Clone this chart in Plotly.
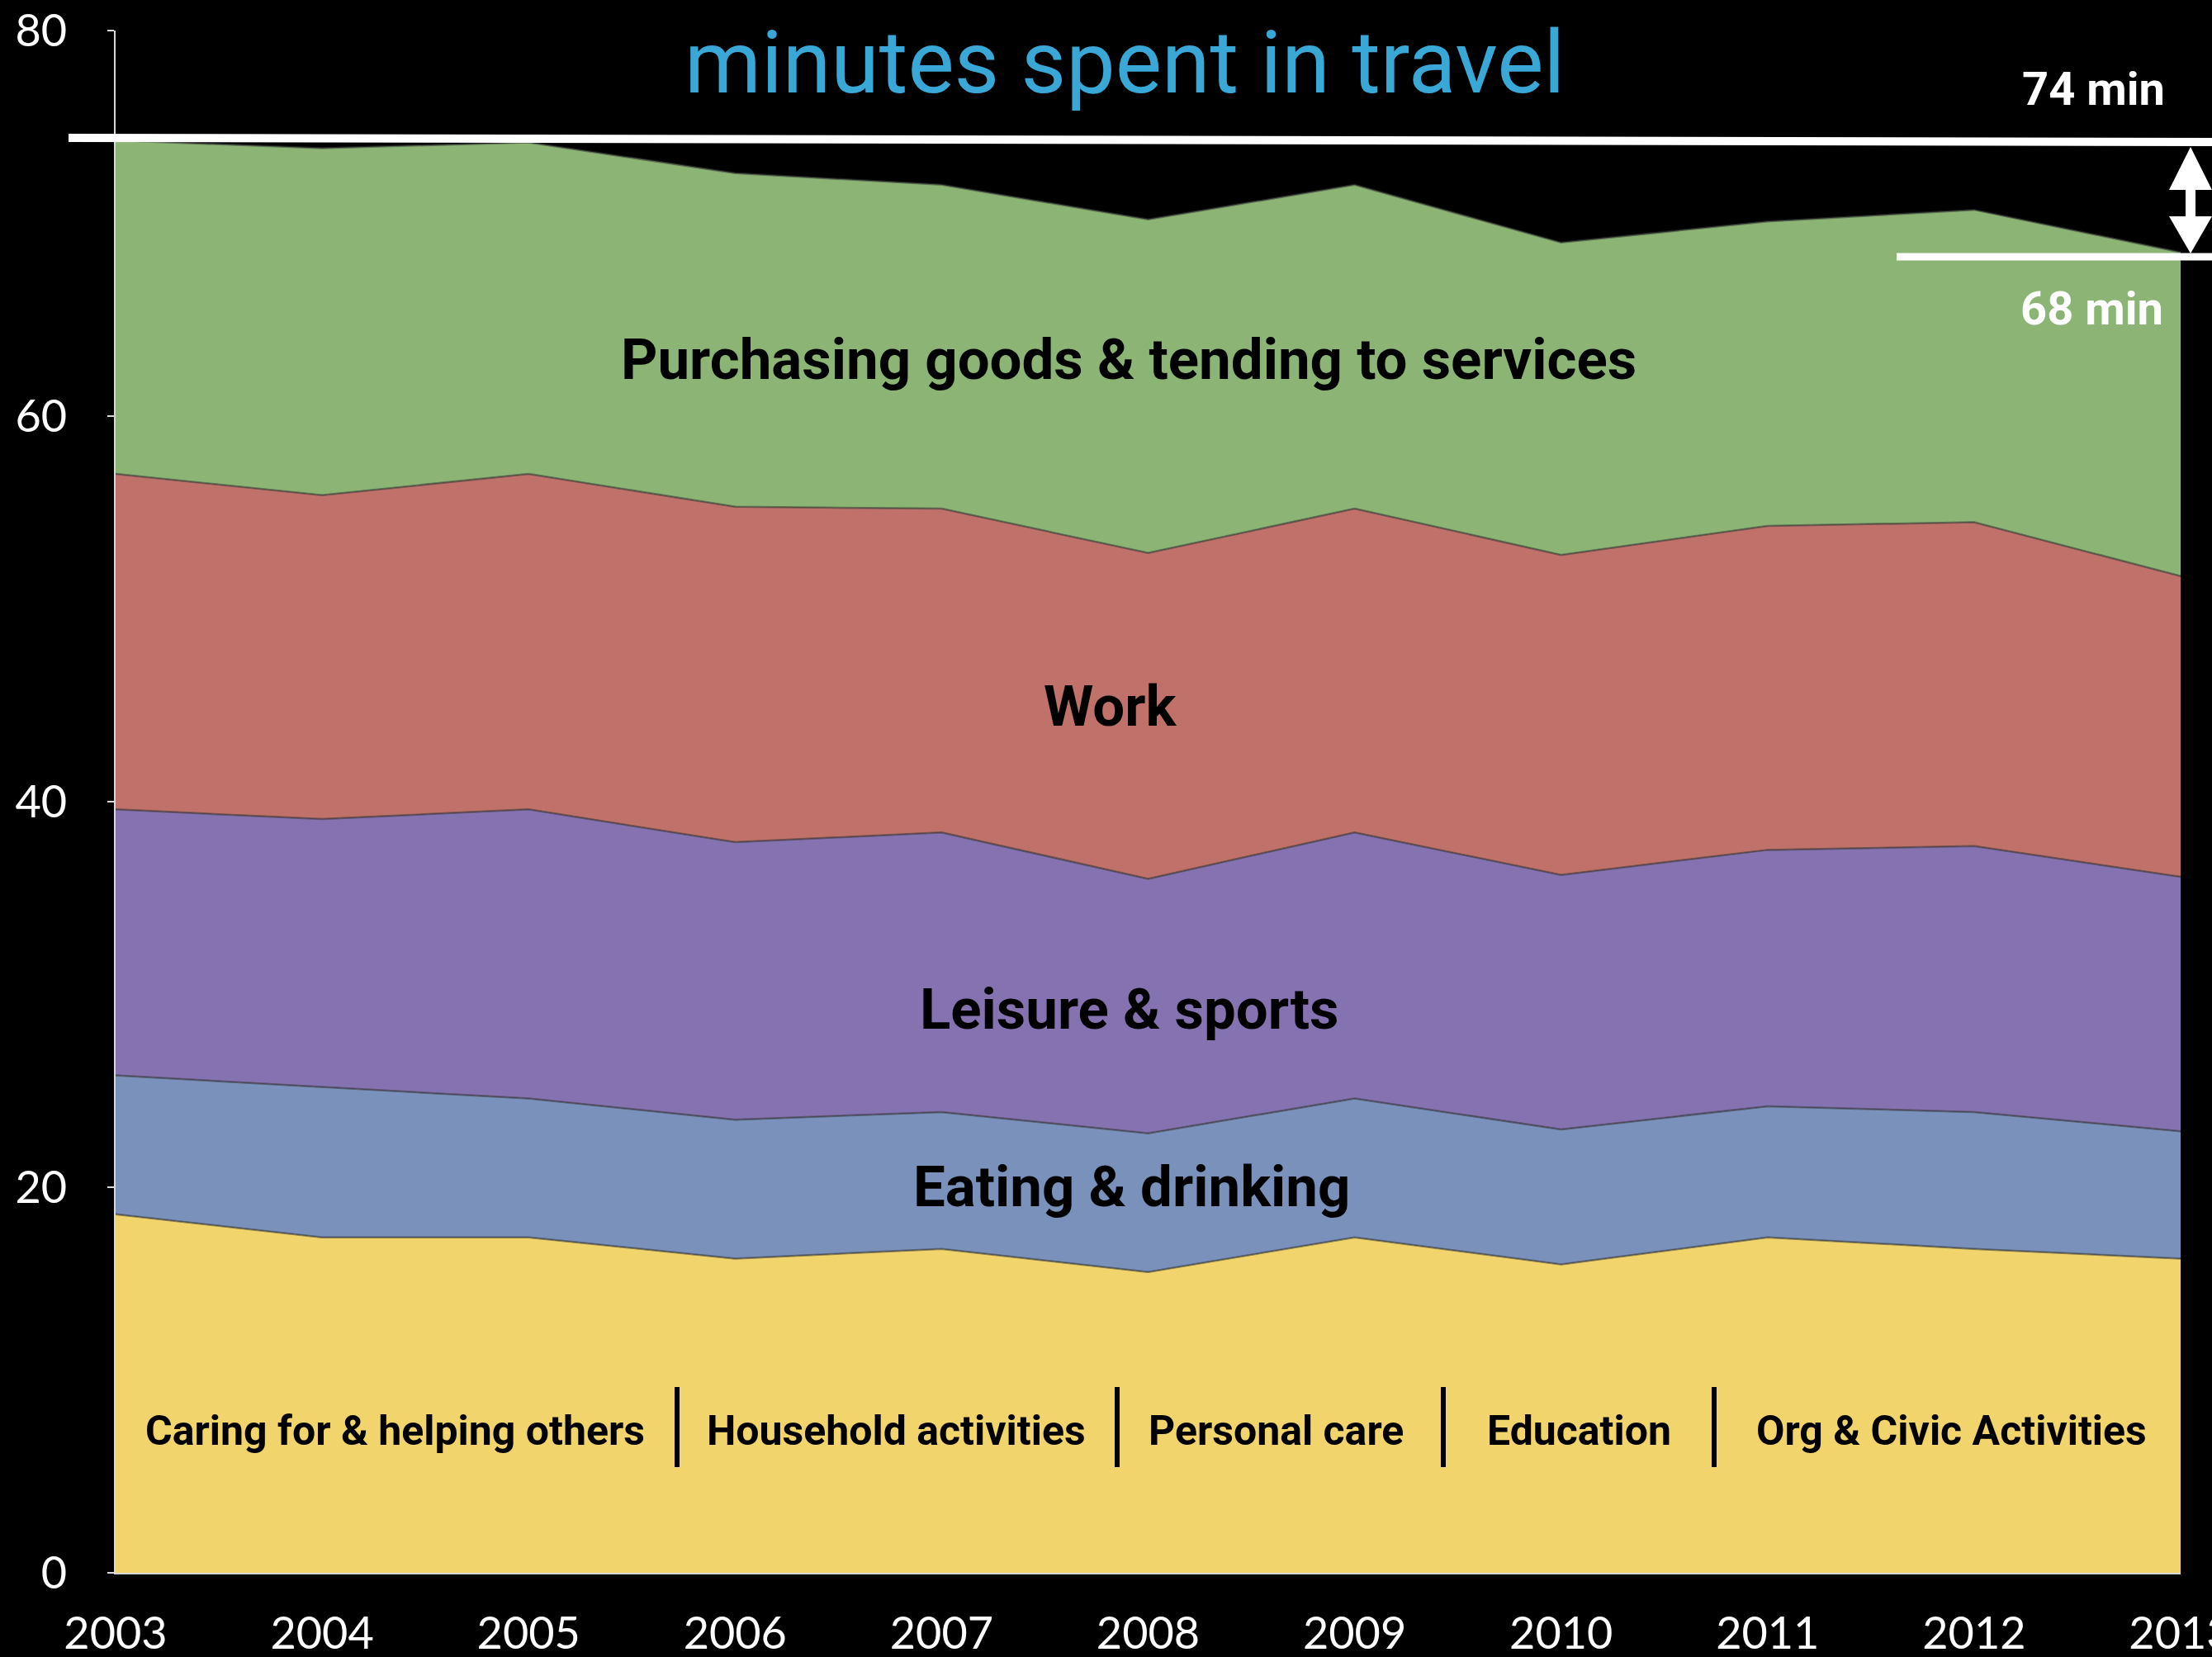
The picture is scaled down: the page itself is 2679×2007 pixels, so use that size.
import plotly.graph_objects as go

# ---------------- data (minutes per day spent in travel, by purpose) ----------------
years = [2003, 2004, 2005, 2006, 2007, 2008, 2009, 2010, 2011, 2012, 2013]

other_activities = [18.6, 17.4, 17.4, 16.3, 16.8, 15.6, 17.4, 16.0, 17.4, 16.8, 16.3]
eating_drinking = [7.2, 7.8, 7.2, 7.2, 7.1, 7.2, 7.2, 7.0, 6.8, 7.1, 6.6]
leisure_sports = [13.8, 13.9, 15.0, 14.4, 14.5, 13.2, 13.8, 13.2, 13.3, 13.8, 13.2]
work = [17.4, 16.8, 17.4, 17.4, 16.8, 16.9, 16.8, 16.6, 16.8, 16.8, 15.6]
purchasing = [17.3, 18.0, 17.2, 17.3, 16.8, 17.3, 16.8, 16.2, 15.8, 16.2, 16.8]

series_names = ["Other activities", "Eating & drinking", "Leisure & sports", "Work",
                "Purchasing goods & tending to services"]
series_values = [other_activities, eating_drinking, leisure_sports, work, purchasing]
series_colors = ["#F1D46B", "#7A91BB", "#8572B0", "#C0726A", "#8CB575"]

y_ticks = [0, 20, 40, 60, 80]
title_text = "minutes spent in travel"
start_label = "74 min"
end_label = "68 min"
bottom_labels = ["Caring for & helping others", "Household activities", "Personal care",
                 "Education", "Org & Civic Activities"]

# ---------------- layout geometry (pixels) ----------------
W, H = 2679, 2007
L, R, T, B = 140, 2641, 37, 1905


def px(x):
    return (x - L) / (R - L)


def py(y):
    return (B - y) / (B - T)


fig = go.Figure()
for name, vals, col in zip(series_names, series_values, series_colors):
    fig.add_trace(go.Scatter(
        x=years, y=vals, name=name, mode="lines",
        stackgroup="one", fillcolor=col,
        line=dict(color="rgba(55,55,55,0.55)", width=2.5),
        showlegend=False,
    ))

FONT = "Roboto, Lato, sans-serif"

annotations = []


def add_text(text, x, y, size, color="black", weight="bold"):
    annotations.append(dict(
        text=text, x=px(x), y=py(y), xref="paper", yref="paper",
        showarrow=False, xanchor="center", yanchor="middle",
        font=dict(family=FONT, size=size, color=color, weight=weight),
    ))


# title
add_text(title_text, 1362, 76, 106, color="#3AA8D6", weight="normal")
# series labels
add_text(series_names[4], 1367, 436, 69)
add_text(series_names[3], 1345, 855, 69)
add_text(series_names[2], 1367, 1222, 69)
add_text(series_names[1], 1370, 1437, 69)
# bottom multi-category label
bottom_x = [478, 1085, 1545, 1912, 2363]
for lab, xc in zip(bottom_labels, bottom_x):
    add_text(lab, xc, 1733, 50)
# 74 / 68 labels
add_text(start_label, 2535, 108, 56, color="white")
add_text(end_label, 2533, 374, 56, color="white")

shapes = [
    # 74 min line
    dict(type="line", xref="paper", yref="paper", x0=px(83), x1=px(2679),
         y0=py(167), y1=py(172), line=dict(color="white", width=10)),
    # 68 min line
    dict(type="line", xref="paper", yref="paper", x0=px(2297), x1=px(2679),
         y0=py(311), y1=py(311), line=dict(color="white", width=9)),
]
# separators between bottom labels
for xb in [820, 1353, 1748, 2076]:
    shapes.append(dict(type="line", xref="paper", yref="paper", x0=px(xb), x1=px(xb),
                       y0=py(1680), y1=py(1777), line=dict(color="black", width=6)))
# double-headed arrow as polygon
ax = 2653
pts = [(ax, 178), (ax + 26, 230), (ax + 6, 230), (ax + 6, 262), (ax + 26, 262),
       (ax, 307), (ax - 26, 262), (ax - 6, 262), (ax - 6, 230), (ax - 26, 230)]
path = "M " + " L ".join(f"{px(x):.5f},{py(y):.5f}" for x, y in pts) + " Z"
shapes.append(dict(type="path", xref="paper", yref="paper", path=path,
                   fillcolor="white", line=dict(color="white", width=0)))

fig.update_layout(
    width=W, height=H,
    margin=dict(l=L, r=W - R, t=T, b=H - B, pad=0, autoexpand=False),
    paper_bgcolor="black", plot_bgcolor="black",
    annotations=annotations, shapes=shapes,
    xaxis=dict(
        range=[years[0], years[-1]], tickvals=years,
        showgrid=False, zeroline=False, automargin=False,
        showline=True, linecolor="#d8d8d8", linewidth=2, ticks="",
        tickfont=dict(family="Lato, sans-serif", size=54, color="white"),
        ticklabelstandoff=25, ticklabeloverflow="allow",
    ),
    yaxis=dict(
        range=[0, 80], tickvals=y_ticks, showgrid=False, zeroline=False, automargin=False,
        showline=True, linecolor="#d8d8d8", linewidth=2,
        ticks="outside", ticklen=8, tickwidth=2, tickcolor="#d8d8d8",
        tickfont=dict(family="Lato, sans-serif", size=54, color="white"),
        ticklabelstandoff=38, ticklabeloverflow="allow",
    ),
)

fig.write_html(
    "out.html",
    config={"displayModeBar": False},
    post_script="document.body.style.margin='0';document.body.style.background='black';"
                "document.body.style.overflow='hidden';",
)
